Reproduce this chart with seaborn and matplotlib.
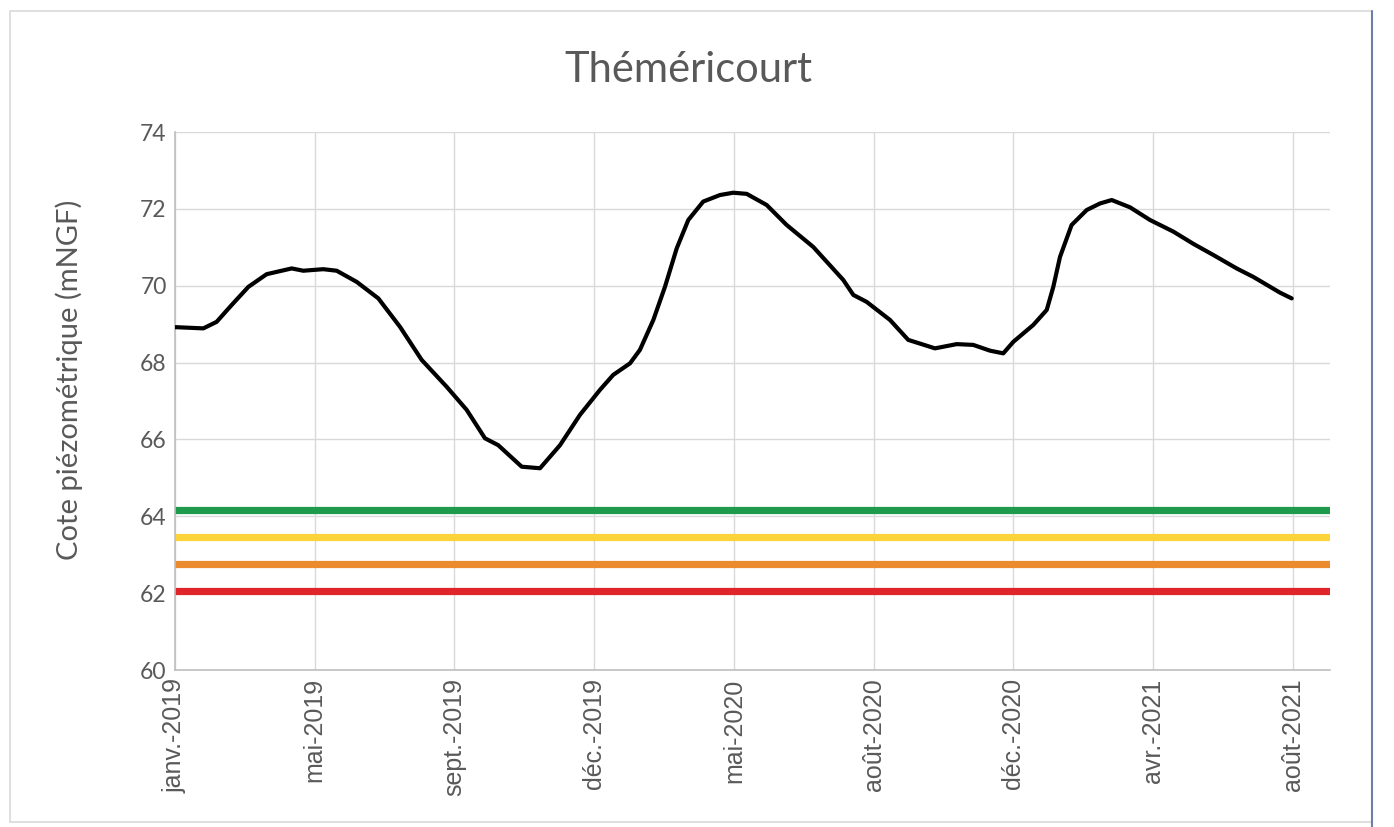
import numpy as np
import pandas as pd
import matplotlib
matplotlib.use("Agg")
import matplotlib.pyplot as plt
from matplotlib.patches import Rectangle
from matplotlib.lines import Line2D
import seaborn as sns

# Sample rank of each reading (axis labelled every 100 readings) and level in mNGF
rang = [0, 1.2, 20.3, 29.8, 40.6, 52.5, 65.6, 83.5, 91.8, 106.1, 115.7, 130.0,
        145.5, 161.0, 176.5, 194.4, 208.7, 221.8, 231.3, 248.1, 261.2, 275.5,
        289.8, 304.1, 313.6, 325.6, 332.7, 342.3, 350.6, 359.0, 367.3, 378.0,
        390.0, 399.5, 409.1, 423.4, 437.7, 456.7, 478.2, 485.4, 494.9, 511.6,
        524.7, 534.3, 543.8, 559.4, 571.2, 583.2, 592.7, 599.9, 614.2, 623.8,
        628.5, 633.3, 641.6, 652.4, 661.9, 670.3, 683.4, 697.7, 714.3, 728.7,
        743.0, 759.7, 771.6, 790.7, 799.1]
cote = [68.92, 68.92, 68.89, 69.06, 69.50, 69.97, 70.30, 70.45, 70.39, 70.43,
        70.39, 70.10, 69.67, 68.93, 68.07, 67.37, 66.77, 66.03, 65.85, 65.29,
        65.25, 65.85, 66.64, 67.29, 67.68, 67.98, 68.33, 69.11, 69.97, 70.97,
        71.71, 72.19, 72.36, 72.42, 72.39, 72.10, 71.58, 71.01, 70.15, 69.76,
        69.58, 69.11, 68.59, 68.48, 68.37, 68.48, 68.46, 68.31, 68.24, 68.54,
        68.98, 69.37, 69.97, 70.75, 71.58, 71.97, 72.14, 72.23, 72.04, 71.71,
        71.41, 71.09, 70.80, 70.45, 70.23, 69.82, 69.67]

# Alert thresholds (mNGF)
seuils = [64.16, 63.46, 62.76, 62.06]
seuil_couleurs = ["#1d9a4b", "#fdd33b", "#ec8a2e", "#e0252a"]

# Tick labels, one every 100 readings
tick_pos = [0, 100, 200, 300, 400, 500, 600, 700, 800]
tick_labels = ["janv.-2019", "mai-2019", "sept.-2019", "déc.-2019", "mai-2020",
               "août-2020", "déc.-2020", "avr.-2021", "août-2021"]

df = pd.DataFrame({"rang": rang, "cote": cote})

sns.set_style("whitegrid")
plt.rcParams["font.family"] = ["Lato", "DejaVu Sans"]

fig = plt.figure(figsize=(13.94, 8.27), dpi=100)
ax = fig.add_axes([175 / 1394, 1 - 670 / 827, (1330 - 175) / 1394, (670 - 132) / 827])

gris = "#595959"

# Threshold lines
for s, c in zip(seuils, seuil_couleurs):
    ax.axhline(s, color=c, lw=5.2, zorder=2)

sns.lineplot(data=df, x="rang", y="cote", color="black", lw=3, ax=ax, zorder=3)

ax.set_xlim(0, 826.5)
ax.set_ylim(60, 74)
ax.set_yticks(range(60, 75, 2))
ax.set_xticks(tick_pos)
ax.set_xticklabels(tick_labels, rotation=90, family=["Liberation Sans"],
                   fontsize=18, color=gris)
for lab in ax.get_yticklabels():
    lab.set_fontsize(16.5)
    lab.set_color(gris)
ax.tick_params(axis="both", length=0, pad=6)
ax.tick_params(axis="y", pad=6)

ax.grid(True, color="#d9d9d9", lw=1)
for side in ["top", "right"]:
    ax.spines[side].set_visible(False)
for side in ["left", "bottom"]:
    ax.spines[side].set_color("#bfbfbf")
    ax.spines[side].set_linewidth(1.2)

ax.set_xlabel("")
ax.set_ylabel("Cote piézométrique (mNGF)", fontsize=21, color=gris)
ax.yaxis.set_label_coords(-0.08, 0.54)

fig.text(688 / 1394, 1 - 70 / 827, "Théméricourt", ha="center", va="center",
         fontsize=30, color=gris)

# Chart frame
fig.patches.append(Rectangle((10 / 1394, 5 / 827), (1372 - 10) / 1394, (816 - 5) / 827,
                             transform=fig.transFigure, fill=False,
                             edgecolor="#d9d9d9", lw=1.2, zorder=0))
fig.lines.append(Line2D([1372 / 1394, 1372 / 1394], [0, 1 - 11 / 827],
                        transform=fig.transFigure, color="#6b7fa8", lw=1.5))

fig.savefig("out.png", dpi=100)
